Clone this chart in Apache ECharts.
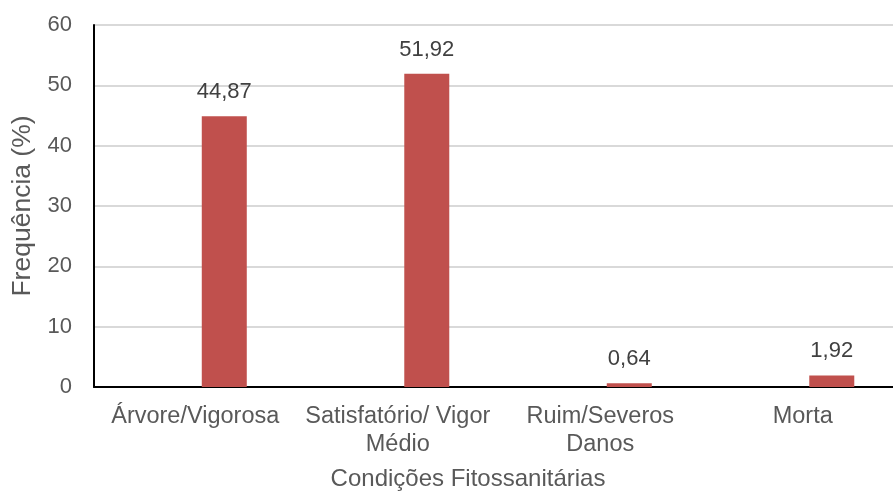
<!DOCTYPE html>
<html>
<head>
<meta charset="utf-8">
<script src="https://cdn.jsdelivr.net/npm/echarts@6/dist/echarts.min.js"></script>
<style>
  html, body { margin: 0; padding: 0; background: #fff; overflow: hidden; }
  /* the plot runs slightly past the right edge of the window */
  #chart { width: 904px; height: 493px; }
</style>
</head>
<body>
<div id="chart"></div>
<script>
// Condições fitossanitárias das árvores (frequência em %)
const categories = ['Árvore/Vigorosa', 'Satisfatório/ Vigor\nMédio', 'Ruim/Severos\nDanos', 'Morta'];
const frequencia = [44.87, 51.92, 0.64, 1.92];
const emptySeries = [null, null, null, null];
const yTicks = { min: 0, max: 60, interval: 10 };

const fontFamily = '"Liberation Sans", Arial, sans-serif';
const chart = echarts.init(document.getElementById('chart'));

chart.setOption({
  animation: false,
  grid: { left: 94, top: 25, right: 0, height: 362, containLabel: false },
  xAxis: {
    type: 'category',
    data: categories,
    axisLine: { lineStyle: { color: '#000', width: 2 } },
    axisTick: { show: false },
    axisLabel: {
      color: '#595959', fontSize: 23.5, fontFamily, lineHeight: 28,
      margin: 16, interval: 0
    }
  },
  yAxis: {
    type: 'value',
    min: yTicks.min, max: yTicks.max, interval: yTicks.interval,
    name: 'Frequência (%)',
    nameLocation: 'middle',
    nameGap: 58,
    nameTextStyle: { color: '#595959', fontSize: 26.5, fontFamily },
    axisLine: { show: true, lineStyle: { color: '#000', width: 2 } },
    axisTick: { show: false },
    axisLabel: { color: '#595959', fontSize: 22, fontFamily, margin: 22 },
    splitLine: { lineStyle: { color: '#D9D9D9', width: 2 } }
  },
  graphic: [{
    type: 'text',
    x: 468, y: 479,
    style: {
      text: 'Condições Fitossanitárias',
      fill: '#595959', fontSize: 24, fontFamily,
      textAlign: 'center', textVerticalAlign: 'middle'
    }
  }],
  series: [
    {
      type: 'bar', data: emptySeries, barWidth: 45, barGap: '29%',
      itemStyle: { color: 'transparent' }
    },
    {
      type: 'bar', data: frequencia, barWidth: 45, barGap: '29%',
      itemStyle: { color: '#C0504D' },
      label: {
        show: true, position: 'top', distance: 13,
        color: '#404040', fontSize: 22, fontFamily,
        formatter: p => p.value.toFixed(2).replace('.', ',')
      }
    }
  ]
});
</script>
</body>
</html>
